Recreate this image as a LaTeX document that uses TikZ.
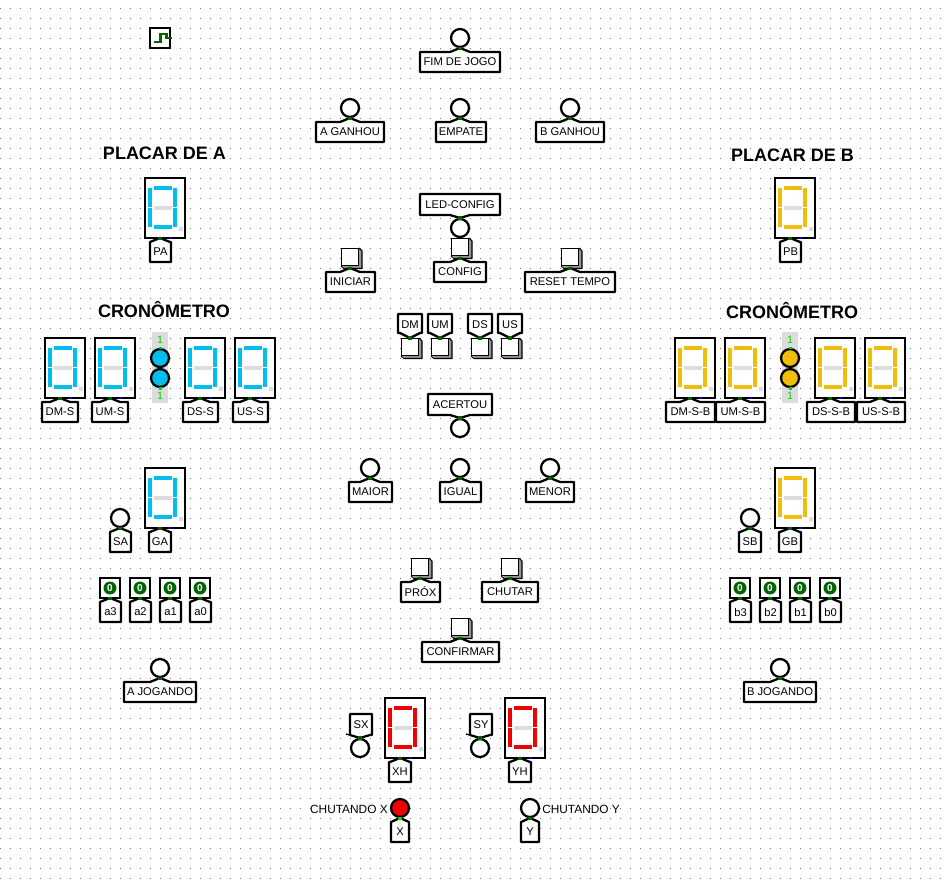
\documentclass[tikz,border=0pt]{standalone}
\usepackage{fontspec}
\setmainfont{Liberation Sans}
\definecolor{cy}{RGB}{0,191,239}
\definecolor{ye}{RGB}{240,190,10}
\definecolor{re}{RGB}{240,0,0}
\definecolor{segoff}{RGB}{220,220,220}
\definecolor{pindark}{RGB}{0,100,0}
\definecolor{pinlight}{RGB}{0,210,0}
\definecolor{dotgray}{RGB}{120,120,120}
\definecolor{shad}{RGB}{150,150,150}
\tikzset{
  x=0.75pt,y=-0.75pt,
  outline/.style={draw=black,line width=1.7pt,fill=white,line join=round},
  tuntext/.style={inner sep=0pt,font=\fontsize{8.4}{10}\selectfont},
  freetext/.style={inner sep=0pt,font=\fontsize{8.9}{10}\selectfont},
  headtext/.style={inner sep=0pt,font=\fontsize{13.5}{15}\selectfont\bfseries},
  pindot/.style={fill=pindark,draw=none},
  ledbody/.style={circle,draw=black,line width=1.7pt,fill=white,minimum size=13.5pt,inner sep=0pt},
  frameb/.style={rectangle,draw=black,line width=1.8pt,fill=white,inner sep=0pt,minimum width=30pt,minimum height=45pt},
}
% #1 name, #2 tip x, #3 tip y, #4 left, #5 right, #6 text : tunnel whose tip points up
\newcommand{\tunup}[6]{%
  \pgfmathsetmacro{\hw}{min(10,min(#2-#4,#5-#2))}
  \draw[outline] (#4,#3+4) -- (#2-\hw,#3+4) -- (#2,#3) -- (#2+\hw,#3+4) -- (#5,#3+4) -- (#5,#3+24) -- (#4,#3+24) -- cycle;
  \node[tuntext] (#1) at ({(#4+#5)/2},#3+14) {#6};
  \fill[pindot] (#2-2,#3-1.5) rectangle (#2+2,#3+2);
}
% tunnel whose tip points down; #7 = depth of the flare
\newcommand{\tundown}[7]{%
  \pgfmathsetmacro{\hw}{min(10,min(#2-#4,#5-#2))}
  \draw[outline] (#4,#3-#7) -- (#2-\hw,#3-#7) -- (#2,#3) -- (#2+\hw,#3-#7) -- (#5,#3-#7) -- (#5,#3-24) -- (#4,#3-24) -- cycle;
  \node[tuntext] (#1) at ({(#4+#5)/2},#3-13) {#6};
  \fill[pindot] (#2-2,#3-2) rectangle (#2+2,#3+1.5);
}
% #1 name, #2 x, #3 y, #4 fill
\newcommand{\ledlamp}[4]{\node[ledbody,fill=#4] (#1) at (#2,#3) {};}
% button with top-left #2,#3
\newcommand{\pushb}[3]{%
  \fill[shad] (#2+1,#3+1) -- (#2+18,#3+1) -- (#2+21,#3+4) -- (#2+21,#3+20) -- (#2+4,#3+20) -- (#2+1,#3+17) -- cycle;
  \draw[black,line width=.8pt,line join=round] (#2+18,#3) -- (#2+21,#3+3) -- (#2+21,#3+20.5) -- (#2+3,#3+20.5) -- (#2,#3+18);
  \node[rectangle,draw=black,line width=1.2pt,fill=white,minimum size=13pt,inner sep=0pt] (#1) at (#2+9,#3+9) {};
}
% hex display: #1 name, #2 left, #3 top, #4 colour
\newcommand{\hexd}[4]{%
  \node[frameb] (#1) at (#2+20,#3+30) {};
  \fill[#4] (#2+8.5,#3+8) rectangle (#2+27,#3+12.3);
  \fill[#4] (#2+3,#3+10) rectangle (#2+7.3,#3+29);
  \fill[#4] (#2+3,#3+30) rectangle (#2+7.3,#3+49);
  \fill[#4] (#2+28,#3+10) rectangle (#2+32.3,#3+29);
  \fill[#4] (#2+28,#3+30) rectangle (#2+32.3,#3+49);
  \fill[#4] (#2+8.5,#3+47) rectangle (#2+27,#3+51.3);
  \fill[segoff] (#2+8.5,#3+28) rectangle (#2+27,#3+32.3);
  \fill[segoff] (#2+34,#3+49) rectangle (#2+38,#3+53);
  \fill[blue] (#2+23.5,#3+58.5) rectangle (#2+26.5,#3+61);
}
% input pin: #1 name, #2 centre x, #3 centre y
\newcommand{\binpin}[3]{%
  \node[rectangle,draw=black,line width=1.7pt,fill=white,minimum width=15pt,minimum height=14.5pt,inner sep=0pt] (#1) at (#2,#3) {};
  \fill[pindark] (#2,#3) circle (6.5);
  \node[inner sep=0pt,font=\fontsize{7.5}{8}\selectfont\bfseries,text=white] at (#2,#3) {0};
}
% colon pair: #1 name prefix, #2 x, #3 colour
\newcommand{\colonpair}[3]{%
  \fill[segoff] (#2-8,332) rectangle (#2+8,403);
  \node[inner sep=0pt,font=\fontsize{8}{9}\selectfont,text=pinlight] (#1a) at (#2,340) {1};
  \node[inner sep=0pt,font=\fontsize{8}{9}\selectfont,text=pinlight] (#1b) at (#2,396) {1};
  \ledlamp{#1c}{#2}{358}{#3}
  \ledlamp{#1d}{#2}{378}{#3}
  \fill[pinlight] (#2-1.5,346.5) rectangle (#2+1.5,349);
  \fill[pinlight] (#2-1.5,387) rectangle (#2+1.5,389.5);
}
\begin{document}
\begin{tikzpicture}
\useasboundingbox (0,0) rectangle (950,879);
\fill[white] (0,0) rectangle (950,879);
% grid of dots
\foreach \gy in {8,18,...,878}
  \draw[dotgray,line width=.75pt,dash pattern=on .75pt off 6.75pt,dash phase=.375pt] (0,\gy) -- (945,\gy);

% clock
\node[rectangle,draw=black,line width=1.8pt,fill=white,minimum width=15pt,minimum height=15pt,inner sep=0pt] (clk) at (160,38) {};
\draw[pindark,line width=1.6pt] (153.5,42) -- (160.5,42) -- (160.5,34) -- (166.5,34) -- (166.5,38.5);
\fill[pindark] (168,37) rectangle (172,39);

% top centre
\ledlamp{lfim}{460}{38}{white}   \tunup{fim}{460}{48}{420}{500}{FIM DE JOGO}
\ledlamp{laga}{350}{108}{white}  \tunup{aga}{350}{118}{316}{384}{A GANHOU}
\ledlamp{lemp}{460}{108}{white}  \tunup{emp}{460}{118}{436}{486}{EMPATE}
\ledlamp{lbga}{570}{108}{white}  \tunup{bga}{570}{118}{536}{604}{B GANHOU}

% headings
\node[headtext] (ha) at (164.5,153) {PLACAR DE A};
\node[headtext] (hb) at (792.5,155) {PLACAR DE B};
\node[headtext] (ca) at (164,310) {CRONÔMETRO};
\node[headtext] (cb) at (792,311) {CRONÔMETRO};

% score displays
\hexd{dpa}{145}{178}{cy}  \tunup{pa}{160}{238}{150}{171}{PA}
\hexd{dpb}{775}{178}{ye}  \tunup{pb}{790}{238}{780}{801}{PB}

% left chrono
\hexd{ddma}{45}{338}{cy}   \tunup{dma}{60}{398}{42}{78}{DM-S}
\hexd{duma}{95}{338}{cy}   \tunup{uma}{110}{398}{92}{128}{UM-S}
\colonpair{cola}{160}{cy}
\hexd{ddsa}{185}{338}{cy}  \tunup{dsa}{200}{398}{183}{218}{DS-S}
\hexd{dusa}{235}{338}{cy}  \tunup{usa}{250}{398}{233}{268}{US-S}

% right chrono
\hexd{ddmb}{675}{338}{ye}  \tunup{dmb}{690}{398}{666}{715}{DM-S-B}
\hexd{dumb}{725}{338}{ye}  \tunup{umb}{740}{398}{716}{765}{UM-S-B}
\colonpair{colb}{790}{ye}
\hexd{ddsb}{815}{338}{ye}  \tunup{dsb}{830}{398}{807}{855}{DS-S-B}
\hexd{dusb}{865}{338}{ye}  \tunup{usb}{880}{398}{857}{905}{US-S-B}

% guesses
\hexd{dga}{145}{468}{cy}  \tunup{ga}{160}{528}{149}{171}{GA}
\ledlamp{lsa}{120}{518}{white}  \tunup{sa}{120}{528}{110}{131}{SA}
\hexd{dgb}{775}{468}{ye}  \tunup{gb}{790}{528}{779}{801}{GB}
\ledlamp{lsb}{750}{518}{white}  \tunup{sb}{750}{528}{739}{761}{SB}

% pins
\binpin{pa3}{110}{588} \tunup{a3}{110}{598}{100}{121}{a3}
\binpin{pa2}{140}{588} \tunup{a2}{140}{598}{130}{151}{a2}
\binpin{pa1}{170}{588} \tunup{a1}{170}{598}{160}{181}{a1}
\binpin{pa0}{200}{588} \tunup{a0}{200}{598}{190}{211}{a0}
\binpin{pb3}{740}{588} \tunup{b3}{740}{598}{730}{751}{b3}
\binpin{pb2}{770}{588} \tunup{b2}{770}{598}{760}{781}{b2}
\binpin{pb1}{800}{588} \tunup{b1}{800}{598}{790}{811}{b1}
\binpin{pb0}{830}{588} \tunup{b0}{830}{598}{820}{841}{b0}

\ledlamp{laj}{160}{668}{white} \tunup{aj}{160}{678}{124}{196}{A JOGANDO}
\ledlamp{lbj}{780}{668}{white} \tunup{bj}{780}{678}{744}{816}{B JOGANDO}

% config block
\ledlamp{lcfg}{460}{228}{white} \tundown{ledcfg}{460}{218}{420}{500}{LED-CONFIG}{3}
\pushb{bini}{341}{248} \tunup{ini}{350}{268}{326}{375}{INICIAR}
\pushb{bcfg}{451}{238} \tunup{cfg}{460}{258}{434}{486}{CONFIG}
\pushb{brst}{561}{248} \tunup{rst}{570}{268}{525}{615}{RESET TEMPO}

\pushb{bdm}{401}{338} \tundown{dm}{410}{338}{398}{422}{DM}{5}
\pushb{bum}{431}{338} \tundown{um}{440}{338}{428}{452}{UM}{5}
\pushb{bds}{471}{338} \tundown{ds}{480}{338}{468}{492}{DS}{5}
\pushb{bus}{501}{338} \tundown{us}{510}{338}{498}{522}{US}{5}

\ledlamp{lace}{460}{428}{white} \tundown{ace}{460}{418}{428}{492}{ACERTOU}{3}
\ledlamp{lmai}{370}{468}{white} \tunup{mai}{370}{478}{349}{392}{MAIOR}
\ledlamp{ligu}{460}{468}{white} \tunup{igu}{460}{478}{440}{481}{IGUAL}
\ledlamp{lmen}{550}{468}{white} \tunup{men}{550}{478}{526}{574}{MENOR}

\pushb{bpro}{411}{558} \tunup{pro}{420}{578}{401}{440}{PRÓX}
\pushb{bchu}{501}{558} \tunup{chu}{510}{578}{482}{538}{CHUTAR}
\pushb{bcon}{451}{618} \tunup{con}{460}{638}{422}{499}{CONFIRMAR}

% bottom displays
\hexd{dxh}{385}{698}{re} \tunup{xh}{400}{758}{389}{411}{XH}
\hexd{dyh}{505}{698}{re} \tunup{yh}{520}{758}{509}{531}{YH}
\ledlamp{lsx}{360}{748}{white} \tundown{sx}{360}{738}{350}{372}{SX}{3}
\ledlamp{lsy}{480}{748}{white} \tundown{sy}{480}{738}{470}{492}{SY}{3}
\draw[black,line width=1pt] (346,734) -- (350,735);
\draw[black,line width=1pt] (466,734) -- (470,735);

\ledlamp{lx}{400}{808}{re}    \tunup{x}{400}{818}{391}{409}{X}
\fill[pinlight] (398,816.5) rectangle (402,820);
\ledlamp{ly}{530}{808}{white} \tunup{y}{530}{818}{521}{539}{Y}
\node[freetext,anchor=east] (chx) at (388,809) {CHUTANDO X};
\node[freetext,anchor=west] (chy) at (542,809) {CHUTANDO Y};
\end{tikzpicture}
\end{document}
